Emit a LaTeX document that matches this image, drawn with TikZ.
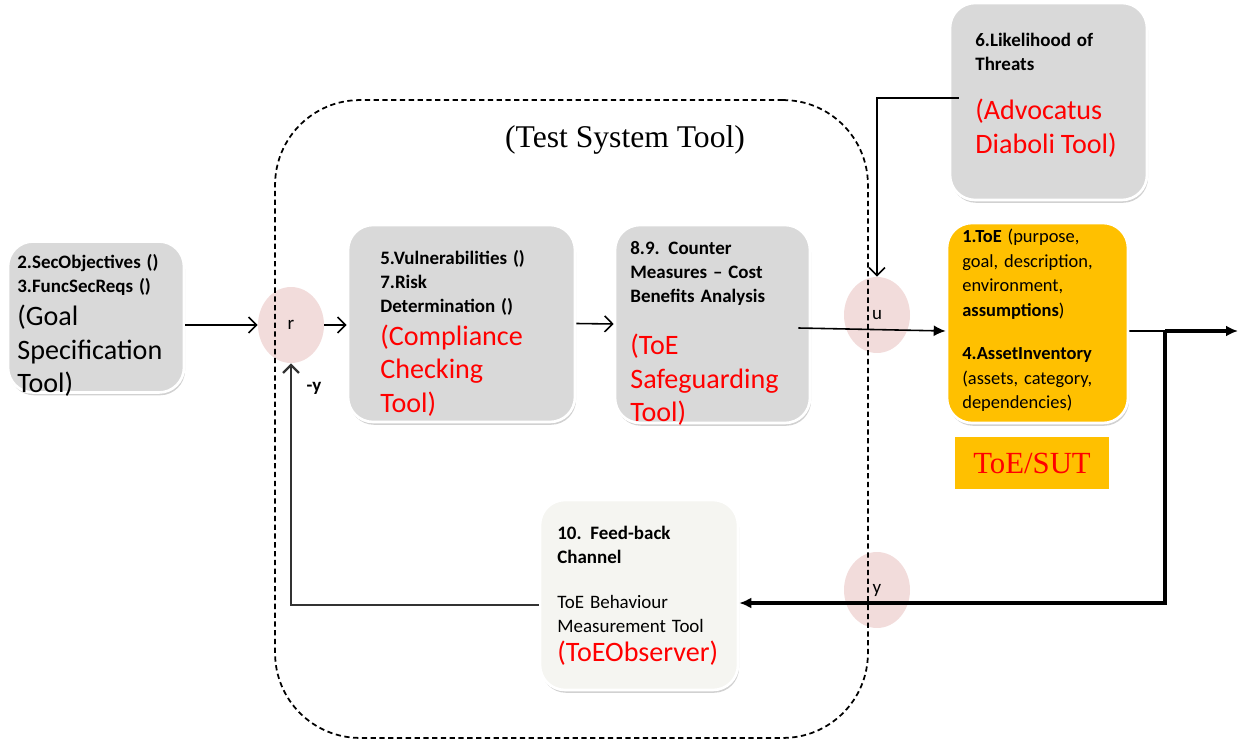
\documentclass[tikz,border=0pt]{standalone}
\usepackage{fontspec}
\setmainfont{Carlito}
\newfontfamily\timesfont{Liberation Serif}
\usetikzlibrary{arrows.meta,shadows,shapes.geometric,positioning}

\definecolor{boxgray}{HTML}{D9D9D9}
\definecolor{toeorange}{HTML}{FFC000}
\definecolor{sumpink}{HTML}{F2DCDB}
\definecolor{obsfill}{HTML}{F5F5F1}

\newcommand{\smalltxt}{\fontsize{10.8}{13.6}\selectfont}
\newcommand{\bigtxt}{\fontsize{16}{19}\selectfont}

\tikzset{
	toolbox/.style={rectangle,rounded corners=0.5cm,fill=boxgray,draw=white,line width=1.5pt,
		drop shadow={shadow xshift=0.6pt,shadow yshift=-1.6pt,fill=black!30,opacity=.6}},
	sumpt/.style={ellipse,fill=sumpink,minimum width=1.32cm,minimum height=1.52cm,inner sep=0pt,font=\smalltxt},
	txt/.style={anchor=north west,inner sep=0pt,align=left,text width=4.2cm},
	thinline/.style={line width=0.9pt},
	heavy/.style={line width=2.2pt},
	fbline/.style={line width=1.3pt,black!80},
	openarr/.style={-{Straight Barb[length=1.6mm,width=3.2mm]}},
	fullarr/.style={-{Latex[length=2.4mm,width=2.2mm]}}
}

\begin{document}
\begin{tikzpicture}[x=0.02cm,y=-0.02cm]
	\useasboundingbox (0,0) rectangle (1238,743);

	% summing points
	\node[sumpt] (r) at (291,325) {r};
	\node[sumpt] (u) at (877,315) {u};
	\node[sumpt] (y) at (877,590) {y};

	% test system boundary
	\node[draw,rounded corners=1.7cm,line width=1pt,dash pattern=on 3pt off 2pt,
		minimum width=11.86cm,minimum height=12.76cm] (sys) at (571.5,419) {};
	\node[font=\timesfont\fontsize{18}{20}\selectfont] (systitle) at (625,140) {(Test System Tool)};

	% tools
	\node[toolbox,minimum width=3.52cm,minimum height=3.02cm] (goal) at (96,317) {};
	\node[toolbox,minimum width=4.54cm,minimum height=3.94cm] (comp) at (461.5,323.5) {};
	\node[toolbox,minimum width=3.9cm,minimum height=3.96cm] (safe) at (712.5,324) {};
	\node[toolbox,minimum width=3.94cm,minimum height=3.94cm] (likely) at (1048.5,101.5) {};
	\node[toolbox,fill=toeorange,minimum width=3.62cm,minimum height=4cm] (toe) at (1037.5,323) {};
	\node[toolbox,fill=obsfill,minimum width=3.96cm,minimum height=3.8cm] (obs) at (639,595) {};
	\node[fill=toeorange,minimum width=3.1cm,minimum height=1.06cm,text=red,
		font=\timesfont\fontsize{17.5}{20}\selectfont] (sut) at (1032,463) {ToE/SUT};

	% texts
	\node[txt] (goaltxt) at (17,254) {\smalltxt\bfseries 2.SecObjectives ()\\3.FuncSecReqs ()\par
		\bigtxt\mdseries (Goal\\Specification\\Tool)\par};
	\node[txt] (comptxt) at (380,250) {\smalltxt\bfseries 5.Vulnerabilities ()\\7.Risk\\Determination ()\par
		\bigtxt\mdseries\color{red}(Compliance\\Checking\\Tool)\par};
	\node[txt] (safetxt) at (630,241) {\smalltxt\bfseries 8.9. Counter\\Measures -- Cost\\Benefits Analysis\par
		\vspace{11pt}\bigtxt\mdseries\color{red}(ToE\\Safeguarding\\Tool)\par};
	\node[txt] (likelytxt) at (975,33) {\smalltxt\bfseries 6.Likelihood of\\Threats\par
		\vspace{9pt}\bigtxt\mdseries\color{red}(Advocatus\\Diaboli Tool)\par};
	\node[txt] (toetxt) at (962,229) {\fontsize{10.5}{13.9}\selectfont\textbf{1.ToE} (purpose,\\goal, description,\\environment,\\\textbf{assumptions})\\[11pt]
		\textbf{4.AssetInventory}\\(assets, category,\\dependencies)\par};
	\node[txt] (obstxt) at (557,526) {\smalltxt\textbf{10. Feed-back}\\\textbf{Channel}\\[12pt]ToE Behaviour\\Measurement Tool\par
		\fontsize{16}{16.5}\selectfont\color{red}(ToEObserver)\par};
	\node[font=\smalltxt\bfseries] (negy) at (314,388) {-y};

	% connectors
	\coordinate (split) at (1165,331);
	\coordinate (outp) at (1238,331);
	\draw[thinline,openarr] (goal.east |- r.west) -- (r.west);
	\draw[thinline,openarr] (r.east) -- (comp.west |- r.east);
	\draw[thinline,openarr] (comp.east) -- (safe.west);
	\draw[thinline,fullarr] ([xshift=-0.26cm,yshift=-0.08cm]safe.east) -- ([yshift=-0.16cm]toe.west);
	\draw[thinline,openarr] ([xshift=0.2cm,yshift=0.07cm]likely.west) -| (u.north);
	\draw[thinline] ([yshift=-0.16cm]toe.east) -- (split);
	\draw[heavy,fullarr] (split) -- (outp);
	\draw[heavy,fullarr] (split) |- ([yshift=-0.16cm]obs.east);
	\draw[fbline,openarr] ([yshift=-0.2cm]obs.west) -| (r.south);
\end{tikzpicture}
\end{document}
